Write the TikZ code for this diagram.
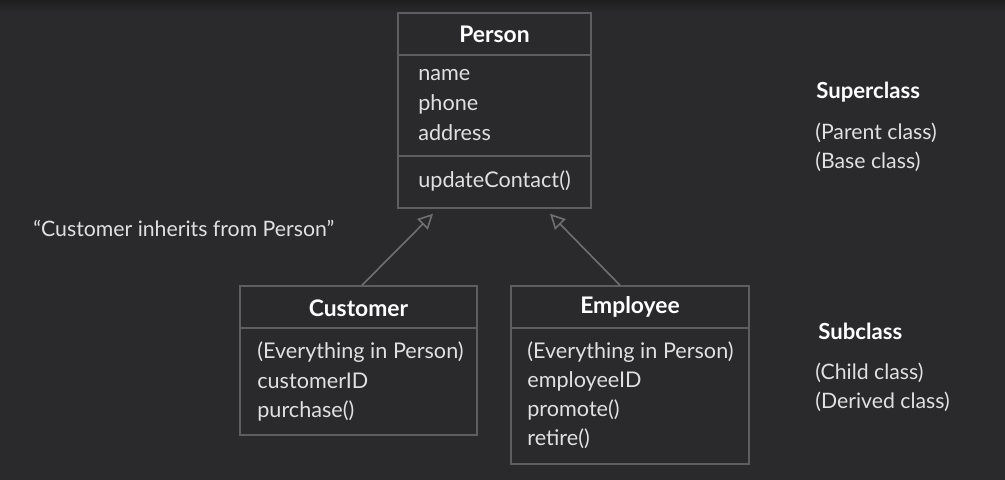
\documentclass[tikz,border=0pt]{standalone}
\usepackage{fontspec}
\setmainfont{Lato}
\usetikzlibrary{arrows.meta,calc}
\definecolor{fond}{RGB}{42,41,44}
\definecolor{fondhaut}{RGB}{30,30,31}
\definecolor{bord}{RGB}{94,94,96}
\definecolor{trait}{RGB}{112,112,114}
\definecolor{texte}{RGB}{224,224,224}
\tikzset{
  classe/.style={draw=bord, line width=0.9pt, inner sep=0pt, minimum width=#1},
  classe/.default=4.7cm,
  titre/.style={text=white, inner sep=0pt, font=\fontsize{13}{15}\selectfont\bfseries},
  membre/.style={anchor=west, text=texte, inner sep=0pt, font=\fontsize{12.3}{14}\selectfont},
  etiquette/.style={anchor=west, text=texte, inner sep=0pt, font=\fontsize{12.1}{14}\selectfont},
  separe/.style={draw=bord, line width=0.9pt},
  herite/.style={-{Triangle[open, length=8.5pt, width=8.5pt]}, draw=trait, line width=0.9pt},
}

\begin{document}
\begin{tikzpicture}[x=0.02cm, y=-0.02cm]
    % fond
    \fill[fond] (0,0) rectangle (1005,480);
    \shade[top color=fondhaut, bottom color=fond] (0,0) rectangle (1005,12);
    \useasboundingbox (0,0) rectangle (1005,480);

    % superclasse
    \node[classe=3.86cm, minimum height=3.9cm] (person) at (494.5,110.5) {};
    \node[titre] (personT) at (494.5,34) {Person};
    \draw[separe] ($(person.north west)+(0,43)$) -- ($(person.north east)+(0,43)$);
    \draw[separe] ($(person.north west)+(0,144)$) -- ($(person.north east)+(0,144)$);
    \node[membre] (pname) at (418,75) {name};
    \node[membre] (pphone) at (418,104) {phone};
    \node[membre] (paddr) at (418,133) {address};
    \node[membre] (pupd) at (418,181) {updateContact()};

    % sous-classes
    \node[classe=4.74cm, minimum height=2.98cm] (cust) at (358.5,360.5) {};
    \node[titre] (custT) at (358.5,308) {Customer};
    \draw[separe] ($(cust.north west)+(0,43)$) -- ($(cust.north east)+(0,43)$);
    \node[membre] (cevery) at (257,352) {(Everything in Person)};
    \node[membre] (cid) at (257,381) {customerID};
    \node[membre] (cpurch) at (257,411) {purchase()};

    \node[classe=4.76cm, minimum height=3.56cm] (empl) at (630,375) {};
    \node[titre] (emplT) at (630,307) {Employee};
    \draw[separe] ($(empl.north west)+(0,43)$) -- ($(empl.north east)+(0,43)$);
    \node[membre] (eevery) at (527,352) {(Everything in Person)};
    \node[membre] (eid) at (527,381) {employeeID};
    \node[membre] (eprom) at (527,410) {promote()};
    \node[membre] (eret) at (527,439) {retire()};

    % heritage
    \coordinate (c1) at ($(cust.north)+(3.5,0)$);
    \coordinate (p1) at ($(person.south)+(-61.5,5)$);
    \coordinate (e1) at ($(empl.north)+(-10,0)$);
    \coordinate (p2) at ($(person.south)+(55.5,5)$);
    \draw[herite] (c1) -- (p1);
    \draw[herite] (e1) -- (p2);

    % legendes
    \node[etiquette] (quote) at (33,228) {“Customer inherits from Person”};
    \node[etiquette, text=white, font=\fontsize{12.6}{15}\selectfont\bfseries] (sup) at (816,92) {Superclass};
    \node[etiquette] (parent) at (815,133) {(Parent class)};
    \node[etiquette] (base) at (815,162) {(Base class)};
    \node[etiquette, text=white, font=\fontsize{12.6}{15}\selectfont\bfseries] (sub) at (818,331) {Subclass};
    \node[etiquette] (child) at (815,373) {(Child class)};
    \node[etiquette] (derived) at (815,402) {(Derived class)};
\end{tikzpicture}
\end{document}
